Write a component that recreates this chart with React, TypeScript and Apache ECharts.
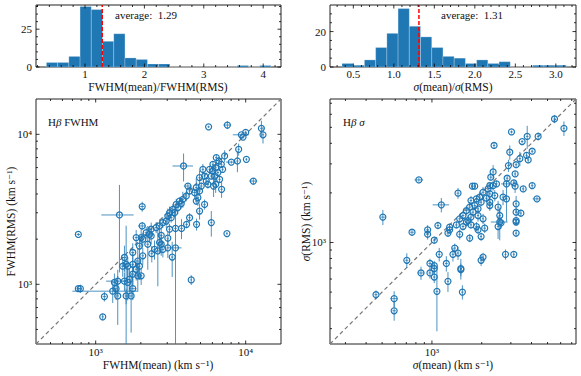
import React, { useEffect, useRef } from "react";
import * as echarts from "echarts";

// ---------- histogram data ----------
const fwhmRatioCounts = [3, 3, 7, 40, 38, 17, 22, 6, 5, 2, 2, 0, 0, 0, 0, 0, 0, 1, 0, 1];
const fwhmRatioBinStart = 0.35;
const fwhmRatioBinWidth = 0.189;
const fwhmRatioAverage = 1.29;

const sigmaRatioCounts = [2, 1, 4, 11, 19, 33, 23, 17, 11, 6, 5, 2, 4, 2, 3, 0, 0, 1, 1, 1];
const sigmaRatioBinStart = 0.36;
const sigmaRatioBinWidth = 0.1385;
const sigmaRatioAverage = 1.31;

// ---------- H-beta FWHM scatter (km/s) ----------
const fwhmMean = [5660, 7550, 12730, 13050, 9360, 9600, 10000, 8980, 10110, 8810, 11250, 7240, 8020, 3854, 6370, 6630, 6880, 6050, 6310, 6050, 6530, 6210, 5900, 6700, 6310, 6110, 7020, 5750, 6910, 5186, 5322, 4928, 5462, 5600, 5058, 4684, 4928, 4563, 4801, 4119, 4226, 4018, 3811, 3623, 3718, 3444, 3531, 3268, 3356, 3107, 3027, 3188, 2953, 2805, 2665, 2532, 2344, 2172, 2010, 1862, 4684, 4928, 5322, 4226, 4706, 4037, 3735, 3406, 3107, 2042, 1440, 5900, 7500, 2042, 766, 766, 790, 1114, 4336, 2735, 3027, 2344, 2225, 2467, 2735, 2596, 2805, 1958, 2061, 1767, 2061, 1909, 1767, 1555, 1515, 1636, 1958, 1862, 1767, 1909, 2010, 1679, 1636, 1403, 1333, 1299, 1368, 1555, 1596, 1403, 1723, 1767, 1143, 3406, 3237, 2366, 3027, 2665, 2284, 1596];
const fwhmRms = [11220, 11530, 10960, 9930, 9930, 9590, 10310, 7940, 6810, 6640, 4880, 7170, 6530, 6150, 6990, 6640, 6310, 6310, 5990, 5690, 5560, 5270, 5270, 5010, 4640, 4520, 5840, 5840, 4300, 5840, 5270, 5140, 4880, 4640, 4520, 4410, 4190, 4090, 3780, 4520, 4190, 3880, 3690, 3590, 3450, 3410, 3250, 3160, 3000, 3000, 2850, 2780, 2640, 2580, 2450, 2390, 2330, 2210, 2050, 2050, 3590, 3080, 3410, 2780, 2510, 2510, 2360, 2360, 2330, 3300, 2900, 2580, 2180, 2450, 2150, 935, 935, 607, 1070, 2120, 2030, 2100, 1850, 1710, 1850, 1670, 1710, 1800, 2000, 1630, 1550, 1430, 1360, 1510, 1320, 1320, 1320, 1260, 1170, 1140, 1140, 1080, 1030, 1050, 1030, 900, 935, 1050, 836, 836, 836, 935, 828, 1750, 1520, 1600, 1750, 1900, 2150, 1360];
const fwhmMeanErr = [100, 450, 250, 250, 1150, 200, 200, 150, 150, 150, 700, 120, 620, 600, 120, 120, 120, 100, 100, 100, 120, 100, 100, 120, 100, 100, 120, 100, 120, 100, 100, 100, 100, 100, 100, 100, 100, 100, 100, 250, 80, 80, 80, 80, 80, 80, 80, 70, 70, 70, 70, 70, 60, 60, 60, 50, 50, 50, 50, 40, 90, 90, 100, 80, 90, 80, 80, 70, 60, 60, 350, 100, 100, 120, 20, 20, 20, 20, 60, 60, 60, 50, 50, 50, 60, 50, 60, 40, 40, 40, 40, 40, 40, 40, 40, 40, 40, 40, 40, 40, 40, 40, 40, 230, 30, 600, 30, 40, 40, 30, 40, 100, 30, 330, 60, 50, 60, 60, 50, 40];
const fwhmRmsErr = [200, 700, 1350, 1250, 250, 250, 300, 730, 150, 1050, 230, 660, 150, 1300, 300, 400, 250, 300, 300, 530, 250, 650, 250, 300, 570, 700, 200, 300, 530, 500, 250, 600, 300, 300, 250, 700, 250, 250, 450, 200, 250, 300, 450, 200, 250, 300, 300, 250, 200, 300, 350, 200, 250, 200, 250, 200, 250, 200, 300, 250, 200, 380, 260, 200, 230, 150, 360, 150, 200, 250, 1700, 500, 60, 150, 50, 40, 60, 30, 80, 300, 200, 250, 600, 250, 300, 700, 200, 300, 200, 250, 200, 300, 250, 300, 200, 200, 250, 200, 200, 250, 150, 200, 250, 200, 150, 150, 150, 150, 100, 300, 360, 150, 60, 1400, 400, 200, 250, 300, 250, 1100];

// ---------- H-beta sigma scatter (km/s) ----------
const sigmaMean = [5508, 6281, 3027, 3767, 4385, 3510, 2375, 4036, 2956, 3734, 3819, 3401, 2901, 3228, 3184, 2344, 2849, 3126, 3184, 2823, 2269, 2455, 2238, 1814, 3562, 4036, 4315, 3228, 3228, 3449, 3228, 2823, 2692, 1438, 834, 1140, 2344, 2184, 2037, 2238, 2399, 2137, 1945, 1858, 1722, 1983, 2238, 1814, 1692, 1900, 1771, 1615, 1541, 1722, 1900, 1652, 1472, 2037, 2512, 2571, 2617, 2238, 1757, 505, 758, 942, 942, 1087, 1280, 1406, 1615, 1541, 1722, 1858, 2085, 2571, 3228, 3228, 1900, 1983, 1692, 1472, 1280, 1250, 1033, 1374, 1438, 1340, 1107, 1222, 1496, 1496, 973, 1033, 1033, 973, 1033, 1072, 1250, 1528, 859, 705, 459, 591, 591, 1983, 2037, 2784, 2512, 3126];
const sigmaRms = [5620, 4932, 4688, 4405, 4405, 4100, 3880, 3581, 3532, 3381, 3170, 3227, 2929, 2965, 2609, 2679, 2455, 2301, 2198, 2268, 2490, 2268, 2214, 2198, 2115, 2214, 1840, 1717, 1528, 1507, 1359, 1840, 1884, 1992, 2399, 1692, 2214, 2115, 2018, 1973, 1927, 1858, 1884, 1840, 1798, 1757, 1757, 1676, 1640, 1600, 1528, 1563, 1458, 1426, 1458, 1359, 1393, 1393, 1640, 1458, 1316, 1676, 2198, 1426, 1154, 1194, 1122, 1268, 1239, 1279, 1331, 1250, 1279, 1250, 1222, 1331, 1331, 1140, 1194, 1087, 1064, 1122, 1194, 1140, 1033, 925, 863, 847, 847, 746, 695, 684, 746, 723, 695, 653, 617, 505, 581, 500, 653, 780, 482, 456, 385, 780, 816, 847, 1250, 847];
const sigmaMeanErr = [100, 100, 60, 70, 80, 60, 40, 70, 50, 60, 60, 60, 50, 60, 50, 40, 50, 50, 50, 200, 40, 40, 40, 30, 60, 70, 250, 50, 50, 50, 50, 50, 50, 30, 50, 130, 40, 40, 40, 40, 40, 40, 30, 30, 30, 30, 40, 30, 30, 30, 30, 30, 30, 30, 30, 30, 30, 30, 40, 40, 40, 40, 30, 15, 20, 20, 20, 20, 20, 25, 30, 30, 30, 30, 40, 300, 50, 50, 30, 30, 30, 25, 25, 25, 20, 25, 25, 25, 20, 25, 25, 25, 20, 20, 20, 20, 20, 20, 20, 25, 40, 15, 10, 30, 15, 30, 30, 40, 40, 40];
const sigmaRmsErr = [320, 500, 100, 700, 250, 100, 180, 100, 350, 120, 120, 320, 250, 100, 100, 270, 100, 100, 200, 80, 100, 100, 100, 80, 80, 80, 50, 200, 80, 80, 80, 500, 200, 150, 60, 170, 150, 200, 150, 100, 150, 100, 150, 100, 120, 100, 150, 100, 120, 100, 100, 100, 100, 100, 120, 100, 100, 100, 150, 120, 100, 120, 100, 150, 40, 80, 80, 60, 60, 60, 80, 60, 60, 80, 80, 300, 60, 50, 60, 60, 60, 80, 60, 60, 50, 60, 80, 80, 80, 80, 100, 60, 50, 50, 50, 50, 50, 216, 80, 50, 60, 80, 30, 50, 50, 60, 50, 60, 200, 30];

// ---------- tick labels ----------
const fwhmRatioTicks = [1, 2, 3, 4];
const fwhmRatioTickLabels = ["1", "2", "3", "4"];
const fwhmRatioMinor = [0.2, 0.4, 0.6, 0.8, 1.2, 1.4, 1.6, 1.8, 2.2, 2.4, 2.6, 2.8, 3.2, 3.4, 3.6, 3.8, 4.2];
const fwhmCountTicks = [0, 25];
const fwhmCountTickLabels = ["0", "25"];
const fwhmCountMinor = [5, 10, 15, 20, 30, 35, 40];

const sigmaRatioTicks = [0.5, 1.0, 1.5, 2.0, 2.5, 3.0];
const sigmaRatioTickLabels = ["0.5", "1.0", "1.5", "2.0", "2.5", "3.0"];
const sigmaRatioMinor = [0.3, 0.4, 0.6, 0.7, 0.8, 0.9, 1.1, 1.2, 1.3, 1.4, 1.6, 1.7, 1.8, 1.9, 2.1, 2.2, 2.3, 2.4, 2.6, 2.7, 2.8, 2.9, 3.1, 3.2];
const sigmaCountTicks = [0, 20];
const sigmaCountTickLabels = ["0", "20"];
const sigmaCountMinor = [5, 10, 15, 25, 30];

const fwhmLogTicks = [1000, 10000];
const fwhmLogTickLabels = ["10³", "10⁴"];
const fwhmLogMinor = [500, 600, 700, 800, 900, 2000, 3000, 4000, 5000, 6000, 7000, 8000, 9000];
const sigmaLogTicks = [1000];
const sigmaLogTickLabels = ["10³"];
const sigmaLogMinor = [300, 400, 500, 600, 700, 800, 900, 2000, 3000, 4000, 5000, 6000, 7000];

const FAMILY = "Liberation Serif, DejaVu Serif, serif";
const BLUE = "#1f77b4";
const ERR = "rgba(31,119,180,0.8)";

type TickSpec = { major: number[]; labels: string[]; minor: number[] };

function tickSeries(idx: number, xt: TickSpec, yt: TickSpec, ax: number, ay: number, xlabOff: number) {
  return {
    type: "custom",
    xAxisIndex: idx,
    yAxisIndex: idx,
    silent: true,
    z: 10,
    data: [[ax, ay]],
    encode: { x: 0, y: 1 },
    renderItem: (params: any, api: any) => {
      const cs = params.coordSys;
      const L = cs.x, R = cs.x + cs.width, T = cs.y, B = cs.y + cs.height;
      const ch: any[] = [];
      const ln = (x1: number, y1: number, x2: number, y2: number) =>
        ch.push({ type: "line", shape: { x1, y1, x2, y2 }, style: { stroke: "#000", lineWidth: 0.8 } });
      const tx = (text: string, x: number, y: number, align: string) =>
        ch.push({
          type: "text", x, y,
          style: { text, fontSize: 11, fontFamily: FAMILY, fill: "#111", align, verticalAlign: "middle" },
        });
      const xp = (v: number) => api.coord([v, ay])[0];
      const yp = (v: number) => api.coord([ax, v])[1];
      xt.major.forEach((v, i) => { const p = xp(v); ln(p, B, p, B - 3.5); ln(p, T, p, T + 3.5); tx(xt.labels[i], p, B + xlabOff, "center"); });
      xt.minor.forEach((v) => { const p = xp(v); if (p > L && p < R) { ln(p, B, p, B - 2); ln(p, T, p, T + 2); } });
      yt.major.forEach((v, i) => { const p = yp(v); ln(L, p, L + 3.5, p); ln(R, p, R - 3.5, p); tx(yt.labels[i], L - 4, p, "right"); });
      yt.minor.forEach((v) => { const p = yp(v); if (p > T && p < B) { ln(L, p, L + 2, p); ln(R, p, R - 2, p); } });
      return { type: "group", children: ch };
    },
  };
}

function histSeries(idx: number, counts: number[], start: number, width: number) {
  return {
    type: "custom",
    xAxisIndex: idx,
    yAxisIndex: idx,
    silent: true,
    z: 2,
    data: counts.map((c, i) => [start + i * width, start + (i + 1) * width, c]),
    encode: { x: [0, 1], y: 2 },
    renderItem: (params: any, api: any) => {
      const p1 = api.coord([api.value(0), api.value(2)]);
      const p2 = api.coord([api.value(1), 0]);
      return {
        type: "rect",
        shape: { x: p1[0], y: p1[1], width: p2[0] - p1[0], height: p2[1] - p1[1] },
        style: { fill: BLUE, stroke: "rgba(255,255,255,0.3)", lineWidth: 0.8 },
      };
    },
  };
}

function errSeries(idx: number, xs: number[], ys: number[], xe: number[], ye: number[]) {
  return {
    type: "custom",
    xAxisIndex: idx,
    yAxisIndex: idx,
    silent: true,
    z: 3,
    data: xs.map((x, i) => [x, ys[i], xe[i], ye[i]]),
    encode: { x: 0, y: 1 },
    renderItem: (params: any, api: any) => {
      const cs = params.coordSys;
      const L = cs.x, R = cs.x + cs.width, T = cs.y, B = cs.y + cs.height;
      const cl = (v: number, a: number, b: number) => Math.max(a, Math.min(b, v));
      const x = api.value(0), y = api.value(1), ex = api.value(2), ey = api.value(3);
      const c = api.coord([x, y]);
      const xl = x - ex > 0 ? cl(api.coord([x - ex, y])[0], L, R) : L;
      const xh = cl(api.coord([x + ex, y])[0], L, R);
      const yl = y - ey > 0 ? cl(api.coord([x, y - ey])[1], T, B) : B;
      const yh = cl(api.coord([x, y + ey])[1], T, B);
      const st = { stroke: ERR, lineWidth: 1 };
      return {
        type: "group",
        children: [
          { type: "line", shape: { x1: xl, y1: c[1], x2: xh, y2: c[1] }, style: st },
          { type: "line", shape: { x1: c[0], y1: yl, x2: c[0], y2: yh }, style: st },
        ],
      };
    },
  };
}

function markerSeries(idx: number, xs: number[], ys: number[]) {
  return {
    type: "scatter",
    xAxisIndex: idx,
    yAxisIndex: idx,
    silent: true,
    z: 4,
    symbol: "circle",
    symbolSize: 6,
    itemStyle: { color: "rgba(255,255,255,0)", borderColor: BLUE, borderWidth: 1.2, opacity: 1 },
    data: xs.map((x, i) => [x, ys[i]]),
  };
}

const hidden = {
  axisLine: { show: false },
  axisTick: { show: false },
  axisLabel: { show: false },
  splitLine: { show: false },
};

export default function App() {
  const ref = useRef<HTMLDivElement>(null);
  useEffect(() => {
    if (!ref.current) return;
    const chart = echarts.init(ref.current, undefined, { renderer: "svg" });
    const gridBase = { show: true, borderColor: "#222", borderWidth: 1, backgroundColor: "transparent" };
    const txt = (text: string, x: number, y: number, size: number, align = "center", rotation = 0) => ({
      type: "text",
      x,
      y,
      rotation,
      style: {
        text, fontSize: size, fontFamily: FAMILY, fill: "#111", align, verticalAlign: "middle",
        rich: { i: { fontStyle: "italic", fontFamily: FAMILY, fontSize: size, fill: "#111" } },
      },
    });
    const option: any = {
      animation: false,
      backgroundColor: "#fff",
      grid: [
        { ...gridBase, left: 36, top: 5, width: 245, height: 62 },
        { ...gridBase, left: 330, top: 5, width: 246, height: 62 },
        { ...gridBase, left: 36, top: 99, width: 245, height: 245 },
        { ...gridBase, left: 330, top: 99, width: 246, height: 245 },
      ],
      xAxis: [
        { gridIndex: 0, type: "value", min: 0.175, max: 4.3, ...hidden },
        { gridIndex: 1, type: "value", min: 0.212, max: 3.249, ...hidden },
        { gridIndex: 2, type: "log", logBase: 10, min: 400, max: 17200, ...hidden },
        { gridIndex: 3, type: "log", logBase: 10, min: 242, max: 7430, ...hidden },
      ],
      yAxis: [
        { gridIndex: 0, type: "value", min: 0, max: 41, ...hidden },
        { gridIndex: 1, type: "value", min: 0, max: 35, ...hidden },
        { gridIndex: 2, type: "log", logBase: 10, min: 400, max: 17200, ...hidden },
        { gridIndex: 3, type: "log", logBase: 10, min: 242, max: 7430, ...hidden },
      ],
      series: [
        histSeries(0, fwhmRatioCounts, fwhmRatioBinStart, fwhmRatioBinWidth),
        histSeries(1, sigmaRatioCounts, sigmaRatioBinStart, sigmaRatioBinWidth),
        {
          type: "line", xAxisIndex: 0, yAxisIndex: 0, silent: true, z: 5, symbol: "none",
          lineStyle: { color: "#ff0000", width: 1.5, type: [4, 2] },
          data: [[fwhmRatioAverage, 0], [fwhmRatioAverage, 41]],
        },
        {
          type: "line", xAxisIndex: 1, yAxisIndex: 1, silent: true, z: 5, symbol: "none",
          lineStyle: { color: "#ff0000", width: 1.5, type: [4, 2] },
          data: [[sigmaRatioAverage, 0], [sigmaRatioAverage, 35]],
        },
        {
          type: "line", xAxisIndex: 2, yAxisIndex: 2, silent: true, z: 1, symbol: "none",
          lineStyle: { color: "#777", width: 1.2, type: [4, 3] },
          data: [[400, 400], [17200, 17200]],
        },
        {
          type: "line", xAxisIndex: 3, yAxisIndex: 3, silent: true, z: 1, symbol: "none",
          lineStyle: { color: "#777", width: 1.2, type: [4, 3] },
          data: [[242, 242], [7430, 7430]],
        },
        errSeries(2, fwhmMean, fwhmRms, fwhmMeanErr, fwhmRmsErr),
        errSeries(3, sigmaMean, sigmaRms, sigmaMeanErr, sigmaRmsErr),
        markerSeries(2, fwhmMean, fwhmRms),
        markerSeries(3, sigmaMean, sigmaRms),
        tickSeries(0, { major: fwhmRatioTicks, labels: fwhmRatioTickLabels, minor: fwhmRatioMinor },
          { major: fwhmCountTicks, labels: fwhmCountTickLabels, minor: fwhmCountMinor }, 1, 1, 7),
        tickSeries(1, { major: sigmaRatioTicks, labels: sigmaRatioTickLabels, minor: sigmaRatioMinor },
          { major: sigmaCountTicks, labels: sigmaCountTickLabels, minor: sigmaCountMinor }, 1, 1, 7),
        tickSeries(2, { major: fwhmLogTicks, labels: fwhmLogTickLabels, minor: fwhmLogMinor },
          { major: fwhmLogTicks, labels: fwhmLogTickLabels, minor: fwhmLogMinor }, 1000, 1000, 8),
        tickSeries(3, { major: sigmaLogTicks, labels: sigmaLogTickLabels, minor: sigmaLogMinor },
          { major: sigmaLogTicks, labels: sigmaLogTickLabels, minor: sigmaLogMinor }, 1000, 1000, 8),
      ],
      graphic: [
        txt("average:  1.29", 115, 15, 11, "left"),
        txt("average:  1.31", 441, 15, 11, "left"),
        txt("FWHM(mean)/FWHM(RMS)", 158, 87, 11.5),
        txt("{i|σ}(mean)/{i|σ}(RMS)", 453, 87, 11.5),
        txt("FWHM(mean) (km s⁻¹)", 158, 365, 11.5),
        txt("{i|σ}(mean) (km s⁻¹)", 453, 365, 11.5),
        txt("FWHM(RMS) (km s⁻¹)", 11, 221.5, 11.5, "center", Math.PI / 2),
        txt("{i|σ}(RMS) (km s⁻¹)", 306, 221.5, 11.5, "center", Math.PI / 2),
        txt("H{i|β} FWHM", 48, 122, 11, "left"),
        txt("H{i|β} {i|σ}", 343, 122, 11, "left"),
      ],
    };
    chart.setOption(option);
    return () => chart.dispose();
  }, []);
  return (
    <div
      ref={ref}
      style={{ position: "fixed", left: 0, top: 0, width: 581, height: 376, background: "#fff" }}
    />
  );
}
